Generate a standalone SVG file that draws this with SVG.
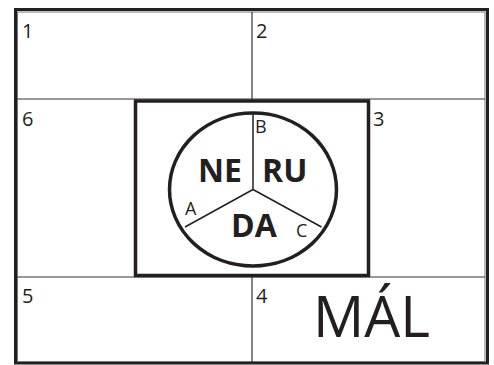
<svg xmlns="http://www.w3.org/2000/svg" width="494" height="365" viewBox="0 0 494 365">
<style>
.frame{fill:none;stroke:#231f20;stroke-width:3}
.inner{fill:none;stroke:#777;stroke-width:1}
.grid{stroke:#333;stroke-width:1.2;fill:none}
.thick{fill:none;stroke:#231f20;stroke-width:3.5}
.spoke{stroke:#231f20;stroke-width:1.5}
text{font-family:"Open Sans","Liberation Sans",sans-serif;fill:#231f20}
.num{font-size:20px}
.lbl{font-size:18px}
.big{font-size:32px;font-weight:bold}
</style>
<rect width="494" height="365" fill="#fff"/>
<g id="frame">
<rect class="frame" x="15.5" y="9.5" width="472" height="353.5"/>
<rect class="inner" x="17.5" y="12" width="467.5" height="349.5"/>
</g>
<g id="grid">
<line class="grid" x1="252" y1="12" x2="252" y2="101"/>
<line class="grid" x1="252" y1="275" x2="252" y2="362"/>
<line class="grid" x1="17" y1="99" x2="485" y2="99"/>
<line class="grid" x1="17" y1="277" x2="485" y2="277"/>
</g>
<g id="cells">
<text class="num" x="22" y="38">1</text>
<text class="num" x="256" y="38">2</text>
<text class="num" x="22" y="126">6</text>
<text class="num" x="373" y="126">3</text>
<text class="num" x="22" y="303">5</text>
<text class="num" x="256" y="303">4</text>
<text x="313" y="337" font-size="57">MÁL</text>
</g>
<g id="centre">
<rect class="thick" x="135.5" y="101" width="233" height="174.5"/>
<ellipse class="thick" cx="253" cy="189.5" rx="83.5" ry="76.5"/>
<line class="spoke" x1="253" y1="189.5" x2="253" y2="113"/>
<line class="spoke" x1="253" y1="189.5" x2="185" y2="227"/>
<line class="spoke" x1="253" y1="189.5" x2="321.5" y2="227"/>
<text class="lbl" x="255" y="133">B</text>
<text class="lbl" x="185" y="215">A</text>
<text class="lbl" x="296" y="237">C</text>
<text class="big" x="198" y="182">NE</text>
<text class="big" x="262" y="182">RU</text>
<text class="big" x="231" y="237">DA</text>
</g>
</svg>
